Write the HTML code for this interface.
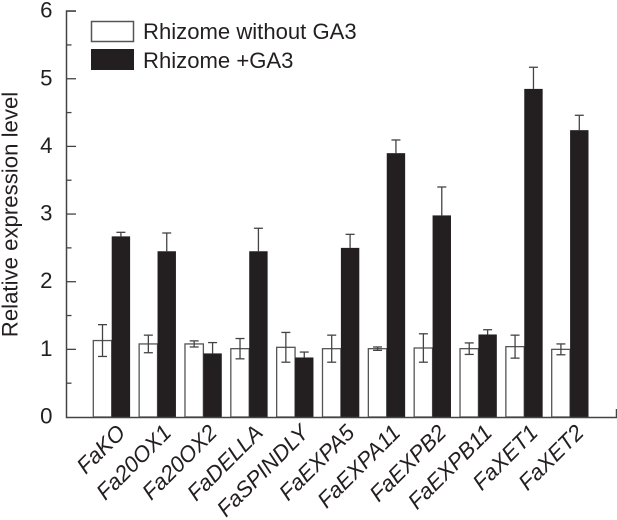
<!DOCTYPE html>
<html lang="en">
<head>
<meta charset="utf-8">
<title>Relative expression level</title>
<style>
html,body{margin:0;padding:0;background:#fff;width:617px;height:520px;overflow:hidden}
svg{display:block;font-family:"Liberation Sans",Arial,sans-serif}
</style>
</head>
<body>
<svg id="chart" width="617" height="520" viewBox="0 0 617 520">
  <rect x="91.5" y="21.5" width="42" height="20" fill="#fff" stroke="#555" stroke-width="1.5"/>
  <text x="143" y="39" font-size="22.1" fill="#231f20">Rhizome without GA3</text>
  <rect x="91" y="49" width="43" height="21" fill="#231f20"/>
  <text x="143" y="68" font-size="22.1" fill="#231f20">Rhizome +GA3</text>
  <text transform="translate(17.5 214.5) rotate(-90)" text-anchor="middle" font-size="22.2" fill="#231f20">Relative expression level</text>
</svg>
<script>
const categories = ['FaKO','Fa20OX1','Fa20OX2','FaDELLA','FaSPINDLY','FaEXPA5','FaEXPA11','FaEXPB2','FaEXPB11','FaXET1','FaXET2'];
const withoutGA3 = [1.13,1.08,1.08,1.01,1.03,1.01,1.01,1.02,1.01,1.04,1.00];
const withoutGA3Err = [0.235,0.13,0.045,0.15,0.22,0.2,0.025,0.21,0.085,0.17,0.08];
const withGA3 = [2.67,2.45,0.94,2.45,0.88,2.50,3.90,2.98,1.22,4.85,4.24];
const withGA3Err = [0.06,0.27,0.16,0.34,0.08,0.2,0.195,0.42,0.07,0.32,0.22];
const yTickLabels = [0,1,2,3,4,5,6];

const svg = document.getElementById('chart');
const NS = 'http://www.w3.org/2000/svg';
const INK = '#231f20';
const AXIS = '#444';
const yScale = v => 417 - v * 67.65;
const groupLeft = i => 93.3 + i * 45.84;
const BAR_W = 18.4;

function make(tag, attrs) {
  const el = document.createElementNS(NS, tag);
  for (const k in attrs) el.setAttribute(k, attrs[k]);
  svg.appendChild(el);
  return el;
}
function drawError(cx, value, err, lower, name) {
  const top = yScale(value + err);
  const bottom = lower ? yScale(value - err) : yScale(value);
  const stem = make('line', {x1: cx, x2: cx, y1: top, y2: bottom, stroke: AXIS, 'stroke-width': 1.3});
  
  
  const cap = make('line', {x1: cx - 4.5, x2: cx + 4.5, y1: top, y2: top, stroke: AXIS, 'stroke-width': 1.3});
  
  
  if (lower) {
    const low = make('line', {x1: cx - 4.5, x2: cx + 4.5, y1: bottom, y2: bottom, stroke: AXIS, 'stroke-width': 1.3});
    
    
  }
}

categories.forEach((cat, i) => {
  const x0 = groupLeft(i);
  const y1 = yScale(withoutGA3[i]);
  const white = make('rect', {x: x0, y: y1, width: BAR_W, height: yScale(0) - y1, fill: '#fff', stroke: '#555', 'stroke-width': 1.3});
  
  
  drawError(x0 + BAR_W / 2, withoutGA3[i], withoutGA3Err[i], true, 'without-ga3');

  const x1 = x0 + BAR_W;
  drawError(x1 + BAR_W / 2, withGA3[i], withGA3Err[i], false, 'with-ga3');
  const y2 = yScale(withGA3[i]);
  const black = make('rect', {x: x1, y: y2, width: BAR_W, height: yScale(0) - y2, fill: INK});
  
  

  const ax = x1 + 15;
  const ay = 434;
  const label = make('text', {transform: 'translate(' + ax + ' ' + ay + ') rotate(-45)', 'text-anchor': 'end', 'font-size': 22.2, 'font-style': 'italic', fill: INK});
  
  
  label.textContent = cat;
});

const yAxis = make('path', {d: 'M76 11H66.5V417.5H616.5V409', fill: 'none', stroke: AXIS, 'stroke-width': 1.5});



yTickLabels.forEach((t, i) => {
  const y = yScale(t);
  if (i > 0) {
    const major = make('line', {x1: 66.5, x2: 76, y1: y, y2: y, stroke: AXIS, 'stroke-width': 1.3});
    
    
    const minor = make('line', {x1: 66.5, x2: 71.5, y1: yScale(t - 0.5), y2: yScale(t - 0.5), stroke: AXIS, 'stroke-width': 1.3});
    
    
  }
  const text = make('text', {x: 52.5, y: y + 6.5, 'text-anchor': 'end', 'font-size': 22.2, fill: INK});
  
  
  text.textContent = t;
});
</script>
</body>
</html>
